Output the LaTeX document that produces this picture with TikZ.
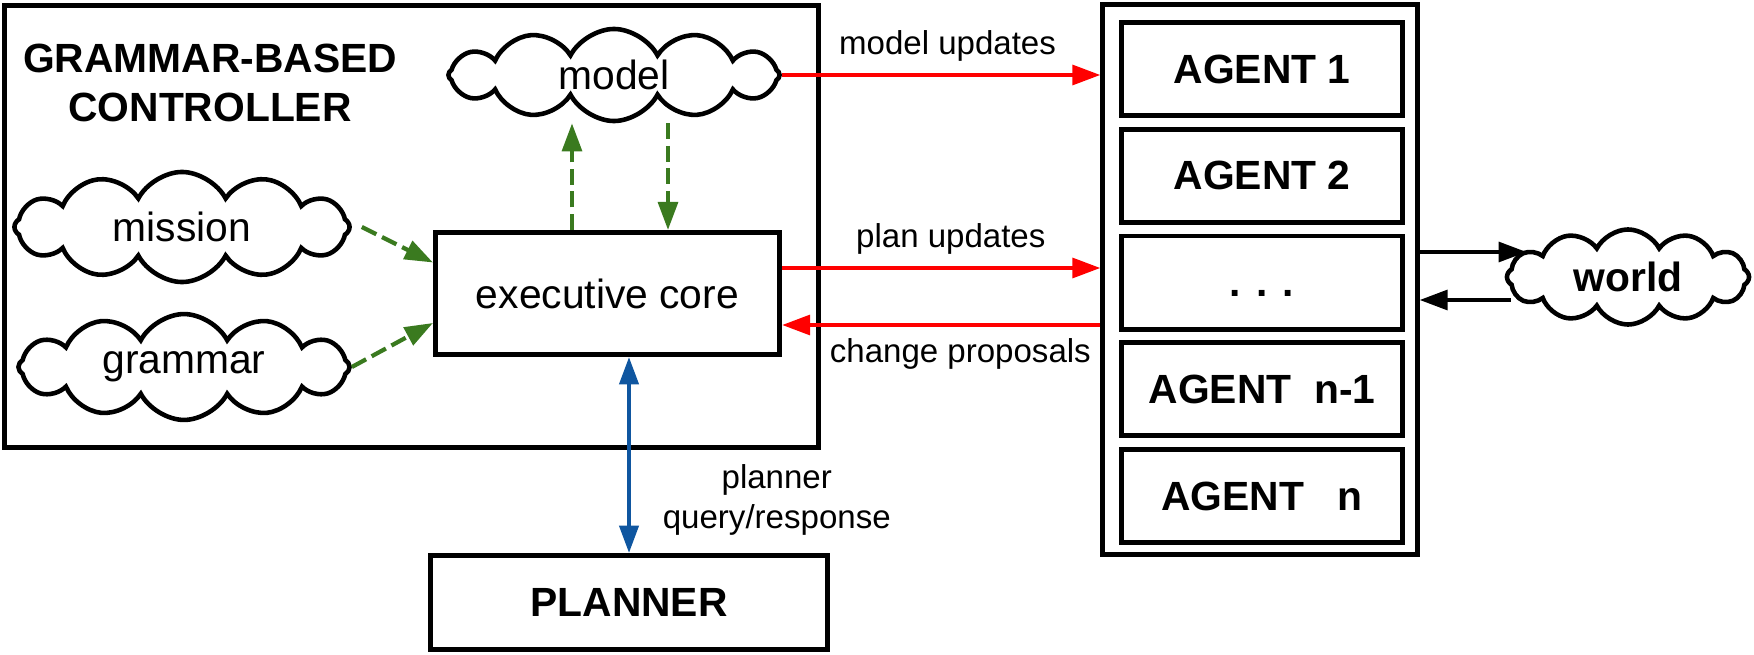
\documentclass[tikz,border=0pt]{standalone}
\usepackage{fontspec}
\setmainfont{Liberation Sans}
\usetikzlibrary{arrows.meta,positioning,calc,shapes.symbols}
\definecolor{flowred}{HTML}{FF0000}
\definecolor{ctrlgreen}{HTML}{3A7A1F}
\definecolor{queryblue}{HTML}{0F56A0}

\begin{document}
\begin{tikzpicture}[x=0.01cm,y=0.01cm,node distance=0.088cm,every node/.style={font=\fontsize{11.6}{13.8}\selectfont,align=center},box/.style={draw,line width=1.4pt,inner sep=0pt},agentbox/.style={box,font=\fontsize{11.6}{13.8}\selectfont\bfseries,minimum width=2.8cm,minimum height=0.93cm},puff/.style={draw,line width=1.3pt,cloud,cloud puffs=12,cloud puff arc=125,inner sep=0pt},lbl/.style={text=black,font=\fontsize{9.4}{11.4}\selectfont},flow/.style={-{Triangle[length=8pt,width=5.6pt]},line width=1.2pt},greendash/.style={dash pattern=on 4.6pt off 1.8pt}]
\useasboundingbox (0,0) rectangle (1754,654);
% controller side
\node[box,minimum width=8.13cm,minimum height=4.42cm] (ctrl) at (411.5,427.6) {};
\node[font=\fontsize{11.6}{13.8}\selectfont\bfseries] (title) at (210,571) {GRAMMAR-BASED\\CONTROLLER};
\node[puff,aspect=3.6,minimum width=3.31cm,minimum height=0.92cm] (model) at (614,579) {model};
\node[puff,aspect=3.05,minimum width=3.35cm,minimum height=1.1cm] (mission) at (182,427) {mission};
\node[puff,aspect=3.2,minimum width=3.31cm,minimum height=1.03cm] (grammar) at (184,287) {grammar};
\node[box,minimum width=3.44cm,minimum height=1.22cm] (exec) at (607.5,360.5) {executive core};
\node[box,font=\fontsize{11.6}{13.8}\selectfont\bfseries,minimum width=3.96cm,minimum height=0.94cm] (planner) at (629,51.5) {PLANNER};
% agents side
\node[box,minimum width=3.14cm,minimum height=5.5cm] (agents) at (1260,374.25) {};
\node[agentbox] (agent1) at (1262,585) {AGENT 1};
\node[agentbox,below=of agent1] (agent2) {AGENT 2};
\node[agentbox,below=of agent2] (dots) {\smash{\raisebox{-4pt}{. . .}}};
\node[agentbox,below=of dots] (agentn1) {AGENT\ \ n-1};
\node[agentbox,below=of agentn1] (agentn) {AGENT\ \ \ n};
\node[puff,aspect=2.55,font=\fontsize{11.6}{13.8}\selectfont\bfseries,minimum width=2.42cm,minimum height=0.95cm] (world) at (1628,377) {world};
% green links inside the controller
\coordinate (upx) at (572,0);
\coordinate (dnx) at (668,0);
\draw[flow,ctrlgreen,greendash] (exec.north -| upx)--(model.south -| upx);
\draw[flow,ctrlgreen,greendash] (model.south -| dnx)--(exec.north -| dnx);
\draw[flow,ctrlgreen,greendash] ($(mission.east)+(10,0)$)--($(exec.west)+(0,31)$);
\draw[flow,ctrlgreen,greendash] (grammar.east)--($(exec.west)+(0,-29.5)$);
% red links to the agents
\draw[flow,flowred] (model.east)--node[lbl,above,pos=0.52]{model updates}(model.east -| agents.west);
\coordinate (planout) at ($(exec.east)+(0,25.5)$);
\coordinate (propin) at ($(exec.east)+(0,-31.5)$);
\draw[flow,flowred] (planout)--node[lbl,above,pos=0.53]{plan updates}(planout -| agents.west);
\draw[flow,flowred] (propin -| agents.west)--node[lbl,below,pos=0.44]{change proposals}(propin);
% planner
\draw[{Triangle[length=7.8pt,width=5.4pt]}-{Triangle[length=7.8pt,width=5.4pt]},line width=1.2pt,queryblue] (planner.north)--node[lbl,right=0.2cm,pos=0.27]{planner\\query/response}(planner.north |- exec.south);
% world
\coordinate (toworld) at ($(agents.east)+(0,27.75)$);
\coordinate (fromworld) at ($(agents.east)+(0,-20.25)$);
\draw[flow] (toworld)--($(toworld -| world.west)+(22,0)$);
\draw[flow] ($(fromworld -| world.west)+(6,0)$)--(fromworld);
\end{tikzpicture}
\end{document}
